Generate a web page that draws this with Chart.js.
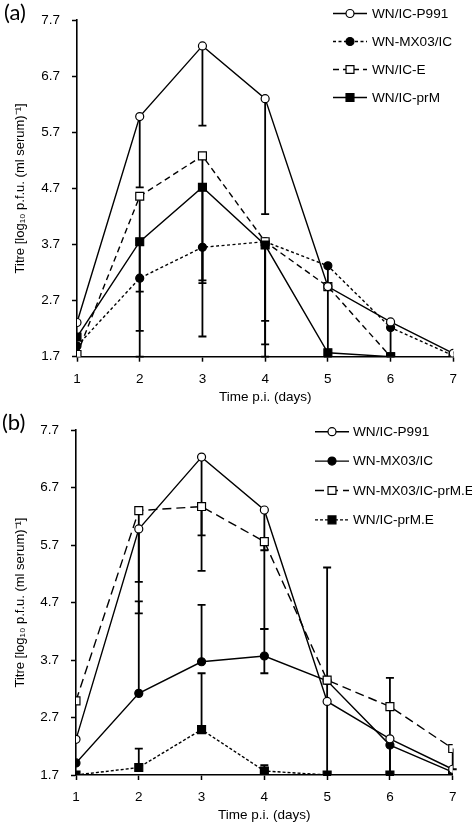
<!DOCTYPE html>
<html>
<head>
<meta charset="utf-8">
<script src="https://cdn.jsdelivr.net/npm/chart.js@4.4.1/dist/chart.umd.min.js"></script>
<style>
  body { margin: 0; background: #fff; }
  .box { position: absolute; left: 0; width: 472px; }
  #boxA { top: 0; height: 410px; }
  #boxB { top: 410px; height: 415px; }
</style>
</head>
<body>
<div class="box" id="boxA"><canvas id="chartA"></canvas></div>
<div class="box" id="boxB"><canvas id="chartB"></canvas></div>
<script>
const days = [1, 2, 3, 4, 5, 6, 7];
const yTicks = [1.7, 2.7, 3.7, 4.7, 5.7, 6.7, 7.7];

// panel (a)
const aP991 = [2.31, 5.98, 7.24, 6.30, 2.95, 2.32, 1.76];
const aMX03 = [1.89, 3.10, 3.65, 3.75, 3.32, 2.22, 1.72];
const aE    = [1.74, 4.56, 5.28, 3.75, 2.95, 1.70, 1.70];
const aPrM  = [2.05, 3.75, 4.72, 3.69, 1.77, 1.70, 1.70];
const aP991Low = [null, 4.72, 5.82, 4.24, null, 1.70, null];
const aMX03Low = [null, 2.86, 2.06, 2.34, 1.70, null, null];
const aELow    = [null, 1.70, 3.06, 1.92, null, null, null];
const aPrMLow  = [null, 2.16, 3.01, 1.70, null, null, null];

// panel (b)
const bP991   = [2.32, 5.98, 7.23, 6.31, 2.98, 2.33, 1.80];
const bMX03   = [1.91, 3.12, 3.67, 3.77, 3.34, 2.22, 1.75];
const bMX03E  = [2.99, 6.30, 6.37, 5.76, 3.35, 2.89, 2.16];
const bPrME   = [1.70, 1.83, 2.49, 1.77, 1.70, 1.70, 1.70];
const bP991Low  = [null, 4.51, 5.87, 4.24, null, null, null];
const bMX03Low  = [null, null, null, 3.47, null, 1.70, null];
const bMX03High = [null, 4.72, 4.66, 4.24, null, null, null];
const bMX03ELow  = [null, 5.06, 5.25, 5.61, 1.70, 1.70, 1.80];
const bMX03EHigh = [null, null, null, null, 5.31, 3.39, null];
const bPrMEHigh  = [null, 2.16, 3.47, 1.87, null, null, null];

const FONT = "'Liberation Sans', Arial, sans-serif";

function pts(vals) {
  return vals.map((v, i) => ({ x: days[i], y: v }));
}

function series(label, vals, style, filled, dash, order, low, high) {
  return {
    label: label,
    data: pts(vals),
    order: order,
    borderColor: "#000",
    borderWidth: 1.4,
    borderDash: dash,
    pointStyle: style,
    pointRadius: style === "rect" ? 5.6 : 4,
    pointBorderWidth: 1.2,
    pointBorderColor: "#000",
    pointBackgroundColor: filled ? "#000" : "#fff",
    tension: 0,
    fill: false,
    errLow: low || [],
    errHigh: high || [],
  };
}

function drawMarker(ctx, ds, x, y) {
  ctx.save();
  ctx.setLineDash([]);
  ctx.lineWidth = ds.pointBorderWidth;
  ctx.strokeStyle = "#000";
  ctx.fillStyle = ds.pointBackgroundColor;
  ctx.beginPath();
  if (ds.pointStyle === "rect") {
    const s = Math.SQRT1_2 * ds.pointRadius;
    ctx.rect(x - s, y - s, 2 * s, 2 * s);
  } else {
    ctx.arc(x, y, ds.pointRadius, 0, Math.PI * 2);
  }
  ctx.fill();
  ctx.stroke();
  ctx.restore();
}

const errorBars = {
  id: "errorBars",
  beforeDatasetsDraw(chart) {
    const ctx = chart.ctx;
    const ys = chart.scales.y;
    ctx.save();
    ctx.strokeStyle = "#000";
    ctx.lineWidth = 1.8;
    chart.data.datasets.forEach((ds, di) => {
      const meta = chart.getDatasetMeta(di);
      meta.data.forEach((p, i) => {
        [ds.errLow[i], ds.errHigh[i]].forEach(b => {
          if (b == null) return;
          const yb = ys.getPixelForValue(b);
          ctx.beginPath();
          ctx.moveTo(p.x, p.y);
          ctx.lineTo(p.x, yb);
          ctx.moveTo(p.x - 4, yb);
          ctx.lineTo(p.x + 4, yb);
          ctx.stroke();
        });
      });
    });
    ctx.restore();
  },
};

const sideLegend = {
  id: "sideLegend",
  afterDraw(chart, args, opts) {
    const ctx = chart.ctx;
    ctx.save();
    chart.data.datasets.forEach((ds, i) => {
      const y = opts.y0 + i * opts.gap;
      ctx.beginPath();
      ctx.strokeStyle = "#000";
      ctx.lineWidth = 1.4;
      ctx.setLineDash(ds.borderDash);
      ctx.moveTo(opts.x1, y);
      ctx.lineTo(opts.x2, y);
      ctx.stroke();
      drawMarker(ctx, ds, (opts.x1 + opts.x2) / 2, y);
      ctx.fillStyle = "#000";
      ctx.font = "13.6px " + FONT;
      ctx.textBaseline = "middle";
      ctx.textAlign = "left";
      ctx.fillText(ds.label, opts.textX, y + 0.5);
    });
    ctx.font = "22px Lato, 'Open Sans', sans-serif";
    ctx.textBaseline = "middle";
    ctx.fillText(opts.panel, opts.panelX, opts.panelY);
    ctx.restore();
  },
};

function makeChart(id, datasets, lay) {
  return new Chart(document.getElementById(id), {
    type: "line",
    data: { datasets: datasets },
    plugins: [errorBars, sideLegend],
    options: {
      responsive: true,
      maintainAspectRatio: false,
      animation: false,
      layout: { padding: { top: lay.top, right: lay.right, left: 0, bottom: 0 } },
      plugins: {
        legend: { display: false },
        tooltip: { enabled: false },
        sideLegend: lay.legend,
      },
      scales: {
        x: {
          type: "linear",
          min: 1,
          max: 7,
          ticks: { stepSize: 1, color: "#000", padding: 9, font: { family: FONT, size: 13.5 } },
          grid: { drawOnChartArea: false, color: "#000", tickLength: 5, tickWidth: 1.5 },
          border: { color: "#000", width: 1.6 },
          title: {
            display: true,
            text: "Time p.i. (days)",
            color: "#000",
            font: { family: FONT, size: 13.5 },
            padding: { top: 0, bottom: lay.xTitlePad },
          },
          afterFit: s => { s.height = lay.xHeight; },
        },
        y: {
          min: 1.7,
          max: 7.7,
          afterBuildTicks: s => { s.ticks = yTicks.map(v => ({ value: v })); },
          ticks: {
            color: "#000",
            padding: 12,
            font: { family: FONT, size: 13.5 },
            callback: v => v.toFixed(1),
          },
          grid: { drawOnChartArea: false, color: "#000", tickLength: 5, tickWidth: 1.5 },
          border: { color: "#000", width: 1.6 },
          title: {
            display: true,
            text: "Titre [log\u2081\u2080 p.f.u. (ml serum)\u207B\u00B9]",
            color: "#000",
            font: { family: FONT, size: 13 },
            padding: { top: 13, bottom: 0 },
          },
          afterFit: s => { s.width = lay.yWidth; },
        },
      },
    },
  });
}

makeChart("chartA", [
  series("WN/IC-P991", aP991, "circle", false, [], 0, aP991Low),
  series("WN-MX03/IC", aMX03, "circle", true, [3, 2.5], 3, aMX03Low),
  series("WN/IC-E", aE, "rect", false, [6, 4], 2, aELow),
  series("WN/IC-prM", aPrM, "rect", true, [], 1, aPrMLow),
], {
  top: 10.7, right: 18.7, yWidth: 77, xHeight: 53.3, xTitlePad: 5,
  legend: { x1: 333, x2: 367, textX: 372, y0: 13.5, gap: 28, panel: "(a)", panelX: 4, panelY: 13 },
});

makeChart("chartB", [
  series("WN/IC-P991", bP991, "circle", false, [], 0, bP991Low),
  series("WN-MX03/IC", bMX03, "circle", true, [], 2, bMX03Low, bMX03High),
  series("WN-MX03/IC-prM.E", bMX03E, "rect", false, [9, 5], 1, bMX03ELow, bMX03EHigh),
  series("WN/IC-prM.E", bPrME, "rect", true, [3, 2], 3, [], bPrMEHigh),
], {
  top: 16.7, right: 19.3, yWidth: 76, xHeight: 50, xTitlePad: 2,
  legend: { x1: 315, x2: 349, textX: 353, y0: 21.7, gap: 29.4, panel: "(b)", panelX: 2, panelY: 12.5 },
});
</script>
</body>
</html>
